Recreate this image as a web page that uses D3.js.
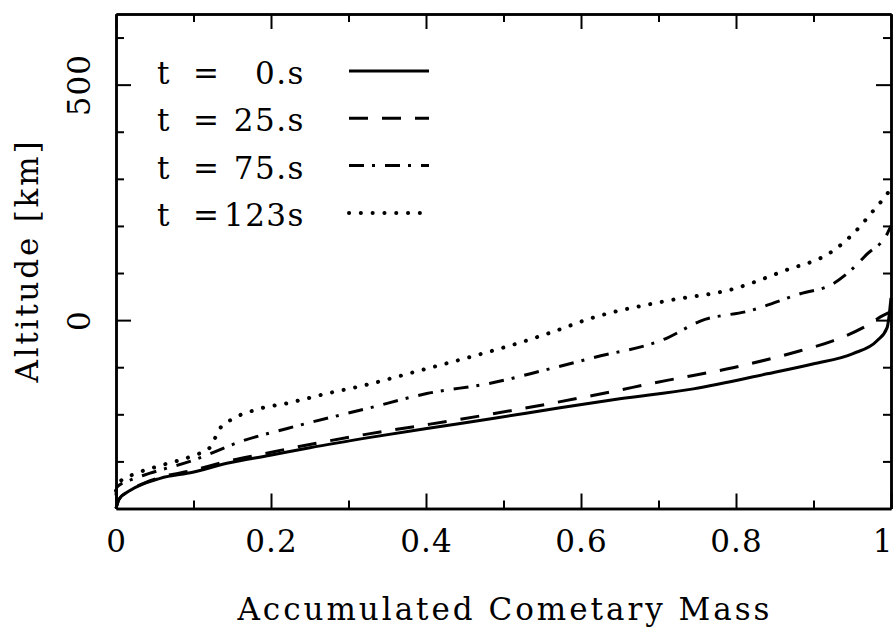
<!DOCTYPE html>
<meta charset="utf-8">
<script src="https://d3js.org/d3.v7.min.js"></script>
<style>
  body { margin: 0; background: #fff; }
  text { font-family: "DejaVu Serif", serif; fill: #000; }
</style>
<div id="chart"></div>
<script>

// data (mass fraction, altitude in km)
var mass0  = [0, 0.004, 0.018, 0.057, 0.099, 0.143, 0.199, 0.25, 0.328, 0.401, 0.486, 0.573, 0.65, 0.745, 0.84, 0.899, 0.951, 0.982, 0.995, 1.0];
var alt0   = [-400, -380, -362, -336, -323, -304, -287, -271, -249, -230, -209, -186, -167, -146, -114, -93, -71, -44, -16, 47];

var mass25 = [0, 0.004, 0.018, 0.057, 0.099, 0.143, 0.199, 0.25, 0.328, 0.401, 0.486, 0.615, 0.711, 0.796, 0.883, 0.925, 0.964, 0.99, 1.0];
var alt25  = [-400, -380, -362, -334, -319, -300, -281, -264, -241, -222, -199, -160, -128, -101, -65, -44, -16, 10, 18];

var mass75 = [0, 0.001, 0.018, 0.044, 0.099, 0.164, 0.221, 0.328, 0.401, 0.486, 0.551, 0.615, 0.711, 0.754, 0.818, 0.883, 0.925, 0.947, 0.969, 0.995, 1.0];
var alt75  = [-372, -355, -340, -325, -298, -256, -230, -186, -156, -133, -107, -80, -38, -2, 20, 56, 77, 104, 140, 183, 200];

var mass123 = [0, 0.003, 0.027, 0.057, 0.099, 0.121, 0.134, 0.147, 0.177, 0.225, 0.272, 0.319, 0.392, 0.453, 0.517, 0.56, 0.615, 0.711, 0.796, 0.861, 0.925, 0.951, 0.977, 0.995, 1.0];
var alt123  = [-362, -346, -325, -309, -288, -271, -230, -213, -192, -175, -156, -139, -107, -80, -50, -27, 5, 41, 66, 104, 147, 183, 232, 268, 280];

var seriesNames = ["t =  0.s", "t = 25.s", "t = 75.s", "t =123s"];
var xTicks = [0, 0.2, 0.4, 0.6, 0.8, 1];
var xMinor = [0.1, 0.3, 0.5, 0.7, 0.9];
var yTicks = [0, 500];
var yMinor = [-300, -200, -100, 100, 200, 300, 400, 600];

var margin = {top: 14, right: 4, bottom: 120.5, left: 116},
    width = 895 - margin.left - margin.right,
    height = 629 - margin.top - margin.bottom;

var svg = d3.select("#chart")
  .append("svg")
    .attr("width", 895)
    .attr("height", 629)
  .append("g")
    .attr("transform", "translate(" + margin.left + "," + margin.top + ")");

var x = d3.scaleLinear().domain([0, 1]).range([0, width]);
var y = d3.scaleLinear().domain([-400, 650]).range([height, 0]);

var fmtX = function(d) { return (d === 0 || d === 1) ? String(d) : d.toFixed(1); };

// axes with inward ticks, mirrored on top / right
function styleAxis(g) {
  g.selectAll("path").attr("stroke", "#000").attr("stroke-width", 2.5);
  g.selectAll("line").attr("stroke", "#000").attr("stroke-width", 2);
}

var xAxisG = svg.append("g")
    .attr("transform", "translate(0," + height + ")")
    .call(d3.axisBottom(x).tickValues(xTicks).tickSizeInner(-15).tickSizeOuter(0).tickPadding(21).tickFormat(fmtX))
    .call(styleAxis);
xAxisG.selectAll("text")
    .style("font-size", "31px")
    .style("letter-spacing", "1px")
    .style("font-family", "DejaVu Serif");
// the last label sits on the page edge, nudge it in
xAxisG.selectAll("text").filter(function(d) { return d === 1; })
    .style("letter-spacing", "0px")
    .attr("x", -9);

svg.append("g")
    .attr("transform", "translate(0," + height + ")")
    .call(d3.axisBottom(x).tickValues(xMinor).tickSizeInner(-8).tickSizeOuter(0).tickFormat(""))
    .call(styleAxis);
svg.append("g")
    .call(d3.axisTop(x).tickValues(xTicks).tickSizeInner(-15).tickSizeOuter(0).tickFormat(""))
    .call(styleAxis);
svg.append("g")
    .call(d3.axisTop(x).tickValues(xMinor).tickSizeInner(-8).tickSizeOuter(0).tickFormat(""))
    .call(styleAxis);

var yAxisG = svg.append("g")
    .call(d3.axisLeft(y).tickValues(yTicks).tickSizeInner(-15).tickSizeOuter(0))
    .call(styleAxis);
yAxisG.selectAll("text")
    .attr("transform", "rotate(-90)")
    .attr("x", 0)
    .attr("y", -26)
    .attr("dy", 0)
    .attr("text-anchor", "middle")
    .style("font-size", "31px")
    .style("letter-spacing", "1px")
    .style("font-family", "DejaVu Serif");
svg.append("g")
    .call(d3.axisLeft(y).tickValues(yMinor).tickSizeInner(-8).tickSizeOuter(0).tickFormat(""))
    .call(styleAxis);
svg.append("g")
    .attr("transform", "translate(" + width + ",0)")
    .call(d3.axisRight(y).tickValues(yTicks).tickSizeInner(-15).tickSizeOuter(0).tickFormat(""))
    .call(styleAxis);
svg.append("g")
    .attr("transform", "translate(" + width + ",0)")
    .call(d3.axisRight(y).tickValues(yMinor).tickSizeInner(-8).tickSizeOuter(0).tickFormat(""))
    .call(styleAxis);

// axis titles
svg.append("text")
    .attr("x", width / 2)
    .attr("y", 620 - margin.top)
    .attr("text-anchor", "middle")
    .attr("textLength", 532)
    .attr("lengthAdjust", "spacing")
    .style("font-size", "31px")
    .text("Accumulated Cometary Mass");

svg.append("text")
    .attr("transform", "translate(" + (38 - margin.left) + "," + (262 - margin.top) + ") rotate(-90)")
    .attr("text-anchor", "middle")
    .attr("textLength", 241)
    .attr("lengthAdjust", "spacing")
    .style("font-size", "31px")
    .text("Altitude [km]");

// curves
var styles = [
  {dash: null,        cap: "butt",  w: 3},
  {dash: "19,14",     cap: "butt",  w: 3},
  {dash: "15,8,3,10", cap: "butt",  w: 3},
  {dash: "0.1,11.7",  cap: "round", w: 4}
];
var series = [
  {xs: mass0, ys: alt0},
  {xs: mass25, ys: alt25},
  {xs: mass75, ys: alt75},
  {xs: mass123, ys: alt123}
];

var line = d3.line()
    .x(function(d) { return x(d[0]); })
    .y(function(d) { return y(d[1]); })
    .curve(d3.curveMonotoneX);

series.forEach(function(s, i) {
  var pts = s.xs.map(function(v, j) { return [v, s.ys[j]]; });
  svg.append("path")
      .datum(pts)
      .attr("fill", "none")
      .attr("stroke", "#000")
      .attr("stroke-width", styles[i].w)
      .attr("stroke-linecap", styles[i].cap)
      .attr("stroke-dasharray", styles[i].dash)
      .attr("d", line);
});

// legend
var legend = svg.append("g")
    .attr("transform", "translate(" + (157 - margin.left) + "," + (84 - margin.top) + ")")
  .selectAll("g")
  .data(seriesNames)
  .enter().append("g")
    .attr("transform", function(d, i) { return "translate(0," + i * 47.3 + ")"; });

legend.append("text")
    .attr("x", 0)
    .style("font-size", "31px")
    .text("t");
legend.append("text")
    .attr("x", 36)
    .style("font-size", "31px")
    .text("=");
legend.append("text")
    .attr("x", 148)
    .attr("text-anchor", "end")
    .style("font-size", "31px")
    .style("letter-spacing", "1.5px")
    .text(function(d) { return d.split("=")[1].trim(); });

legend.append("line")
    .attr("x1", 192)
    .attr("x2", 272)
    .attr("y1", -13)
    .attr("y2", -13)
    .attr("stroke", "#000")
    .attr("stroke-width", function(d, i) { return styles[i].w; })
    .attr("stroke-linecap", function(d, i) { return styles[i].cap; })
    .attr("stroke-dasharray", function(d, i) { return styles[i].dash; });

</script>
